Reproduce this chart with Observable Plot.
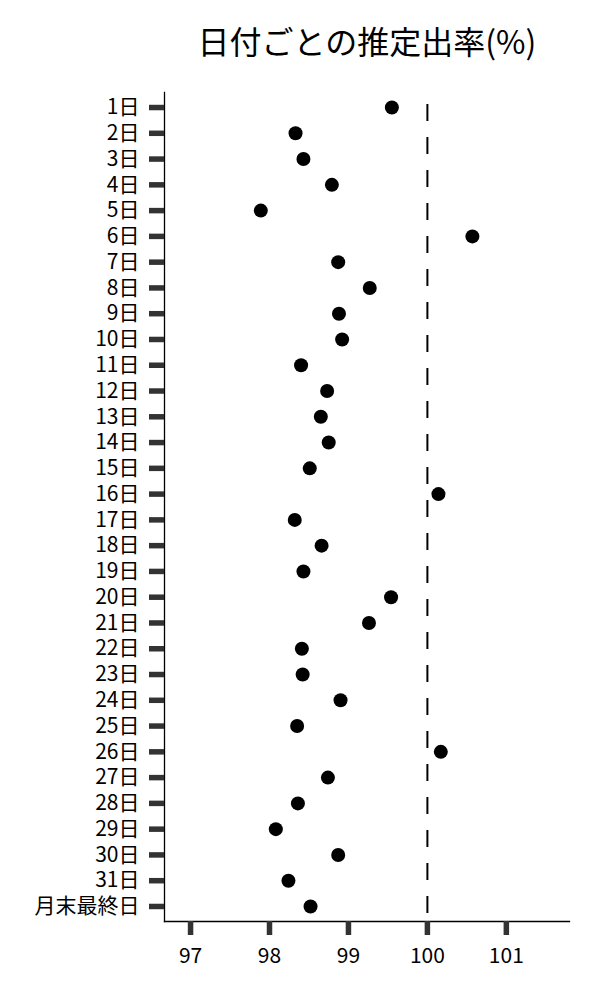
<!DOCTYPE html>
<html>
<head>
<meta charset="utf-8">
<script src="https://cdn.jsdelivr.net/npm/d3@7"></script>
<script src="https://cdn.jsdelivr.net/npm/@observablehq/plot@0.6"></script>
<style>
  body { margin: 0; background: #fff; font-family: "Noto Sans CJK JP", "Noto Sans", sans-serif; }
  #title { height: 70px; width: 600px; box-sizing: border-box; padding-left: 134px; text-align: center;
           font-size: 32px; line-height: 80px; color: #000; }
  #chart svg { display: block; }
</style>
</head>
<body>
<div id="title">日付ごとの推定出率(%)</div>
<div id="chart"></div>
<script>
const days = ["1日","2日","3日","4日","5日","6日","7日","8日","9日","10日",
  "11日","12日","13日","14日","15日","16日","17日","18日","19日","20日",
  "21日","22日","23日","24日","25日","26日","27日","28日","29日","30日","31日","月末最終日"];
const rates = [99.55, 98.33, 98.43, 98.79, 97.89, 100.57, 98.87, 99.27, 98.88, 98.92,
  98.40, 98.73, 98.65, 98.75, 98.51, 100.14, 98.32, 98.66, 98.43, 99.54,
  99.26, 98.41, 98.42, 98.90, 98.35, 100.17, 98.74, 98.36, 98.08, 98.87, 98.24, 98.52];
const xTicks = [97, 98, 99, 100, 101];
const reference = [100];

const data = days.map((d, i) => ({idx: i, day: d, rate: rates[i]}));
const yIdx = days.map((d, i) => i);

const chart = Plot.plot({
  width: 600,
  height: 930,
  marginTop: 22,
  marginBottom: 79,
  marginLeft: 164,
  marginRight: 31,
  style: {fontFamily: '"Noto Sans CJK JP", "Noto Sans", sans-serif', fontSize: "21px", color: "#000", background: "#fff"},
  x: {domain: [96.67, 101.8], ticks: xTicks, tickFormat: d => String(d)},
  y: {type: "linear", domain: [31.583, -0.583]},
  marks: [
    Plot.frame({anchor: "left", stroke: "#000", strokeWidth: 1.3}),
    Plot.frame({anchor: "bottom", stroke: "#000", strokeWidth: 1.3}),
    Plot.ruleX(reference, {stroke: "#000", strokeWidth: 2, strokeDasharray: "17,16", strokeDashoffset: 21}),
    Plot.axisY({ticks: yIdx, tickFormat: i => days[i], tickSize: 15, tickPadding: 10, stroke: "#333", strokeWidth: 5.5, fontSize: 21, label: null}),
    Plot.axisX({ticks: xTicks, tickFormat: d => String(d), tickSize: 14, tickPadding: 13, stroke: "#333", strokeWidth: 5.5, fontSize: 21, label: null}),
    Plot.dot(data, {x: "rate", y: "idx", r: 7, fill: "#000", stroke: null})
  ]
});
document.getElementById("chart").appendChild(chart);
</script>
</body>
</html>
